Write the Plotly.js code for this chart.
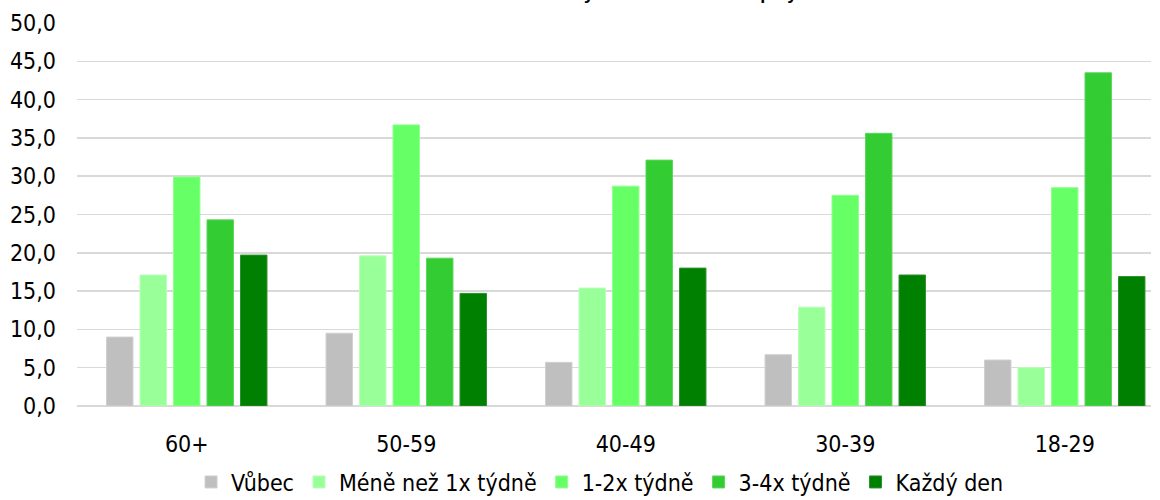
<!DOCTYPE html>
<html>
<head>
<meta charset="utf-8">
<script src="https://cdn.plot.ly/plotly-3.0.1.min.js"></script>
<style>html,body{margin:0;padding:0;background:#fff;}#chart{width:1160px;height:500px;}</style>
</head>
<body>
<div id="chart"></div>
<script>
const categories = ["60+", "50-59", "40-49", "30-39", "18-29"];
const seriesNames = ["Vůbec", "Méně než 1x týdně", "1-2x týdně", "3-4x týdně", "Každý den"];
const vubec = [9.0, 9.5, 5.7, 6.7, 6.0];
const meneNez1x = [17.1, 19.6, 15.4, 12.9, 5.0];
const x1az2 = [29.9, 36.7, 28.7, 27.5, 28.5];
const x3az4 = [24.3, 19.3, 32.1, 35.6, 43.5];
const kazdyDen = [19.7, 14.7, 18.0, 17.1, 16.9];
const colors = ["#BFBFBF", "#99FF99", "#66FF66", "#33CC33", "#008000"];
const lineColors = ["#d0d0d0", "#b8ffb8", "#90ff90", "#5cd65c", "#2e8f2e"];
const yTicks = [0, 5, 10, 15, 20, 25, 30, 35, 40, 45, 50];
const chartTitle = 'Frekvence cvičení v týdnu dle věkové skupiny';

const allValues = [vubec, meneNez1x, x1az2, x3az4, kazdyDen];
const FONT = '"DejaVu Sans Condensed", "Liberation Sans Narrow", "Liberation Sans", sans-serif';

const traces = allValues.map((vals, i) => ({
  type: 'bar',
  name: seriesNames[i],
  x: categories,
  y: vals,
  marker: {color: colors[i], line: {color: lineColors[i], width: 1}},
  hoverinfo: 'y'
}));

const layout = {
  width: 1160, height: 500,
  margin: {l: 77, r: 9, t: 23, b: 94},
  paper_bgcolor: '#ffffff', plot_bgcolor: '#ffffff',
  separators: ', ',
  barmode: 'group',
  bargap: 0.237,
  bargroupgap: 0.21,
  font: {family: FONT, size: 23, color: '#000000'},
  annotations: [{
    text: '<b>' + chartTitle + '</b>',
    xref: 'paper', yref: 'paper',
    x: 0.487, xanchor: 'center',
    y: 1.047, yanchor: 'bottom',
    showarrow: false,
    font: {family: '"Liberation Sans", sans-serif', size: 18, color: '#000'}
  }],
  xaxis: {
    type: 'category',
    range: [-0.5, 4.393],
    showgrid: false,
    showline: false,
    zeroline: false,
    ticks: '',
    ticklabelstandoff: 22,
    automargin: false,
    tickfont: {family: FONT, size: 23, color: '#000'}
  },
  yaxis: {
    range: [0, 50],
    tickvals: yTicks,
    tickformat: '.1f',
    showgrid: true,
    gridcolor: '#d9d9d9',
    gridwidth: 1.5,
    zeroline: true,
    zerolinecolor: '#d9d9d9',
    zerolinewidth: 1.5,
    showline: false,
    ticks: '',
    ticklabelstandoff: 20,
    automargin: false,
    tickfont: {family: FONT, size: 23, color: '#000'}
  },
  legend: {
    orientation: 'h',
    x: 0.487, xanchor: 'center', xref: 'paper',
    y: 0.036, yanchor: 'middle', yref: 'container',
    font: {family: FONT, size: 23, color: '#000'},
    itemwidth: 30,
    traceorder: 'normal'
  },
  showlegend: true
};

Plotly.newPlot('chart', traces, layout, {displayModeBar: false, staticPlot: true});
</script>
</body>
</html>
